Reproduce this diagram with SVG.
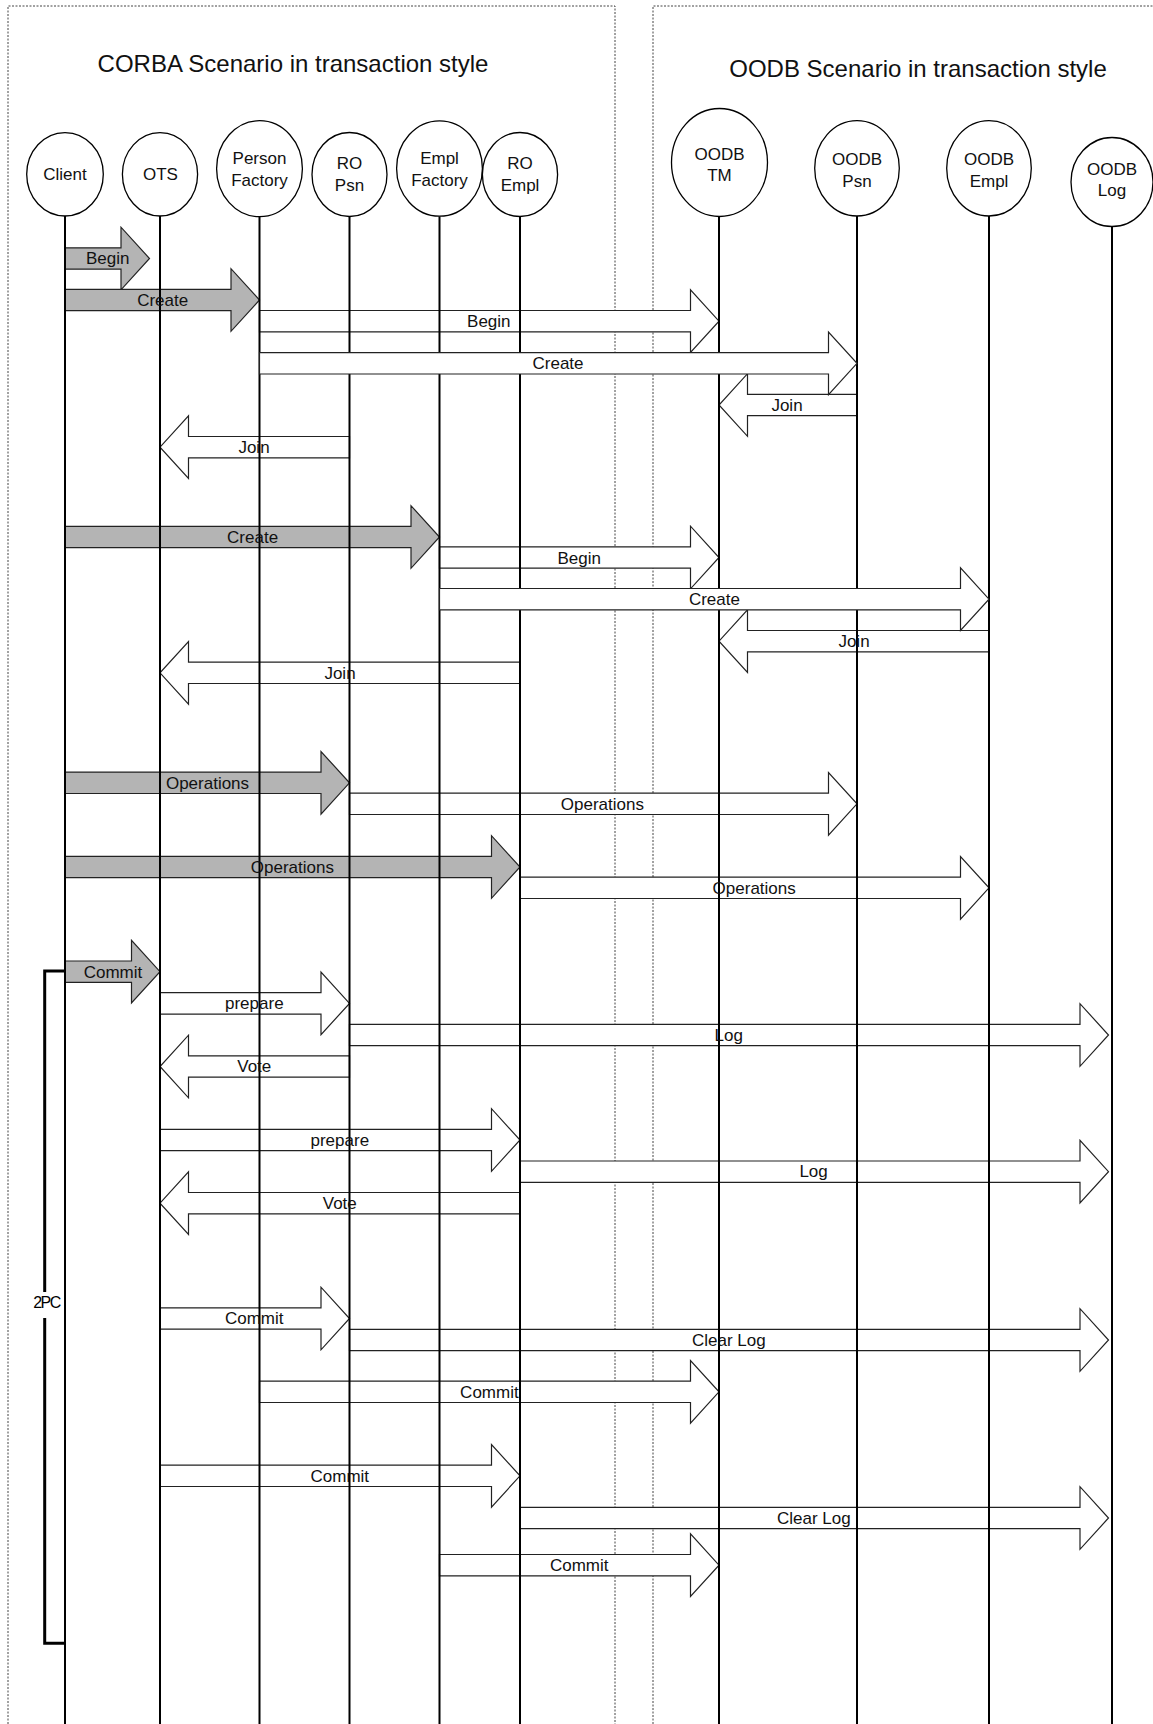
<svg xmlns="http://www.w3.org/2000/svg" width="1153" height="1724" viewBox="0 0 1153 1724">
<style>
  .frame { fill: none; stroke: #444; stroke-width: 1; stroke-dasharray: 2 1.5; }
  .node ellipse { fill: #fff; stroke: #000; stroke-width: 1.3; }
  .life { stroke: #000; stroke-width: 2; fill: none; }
  .ntext { font-family: "Liberation Sans", Arial, sans-serif; font-size: 17px; fill: #111; text-anchor: middle; }
  .title { font-family: "Liberation Sans", Arial, sans-serif; font-size: 24px; fill: #111; text-anchor: middle; }
  .arr { fill: #fff; stroke: #222; stroke-width: 1.2; stroke-linejoin: miter; }
  .garr { fill: #b4b4b4; stroke: #222; stroke-width: 1.2; }
  .lbl { font-family: "Liberation Sans", Arial, sans-serif; font-size: 17px; fill: #111; text-anchor: middle; }
  .bracket { fill: none; stroke: #000; stroke-width: 3; }
  .pc { font-family: "Liberation Sans", Arial, sans-serif; font-size: 16px; fill: #000; text-anchor: middle; letter-spacing: -1.5px; }
</style>
<rect x="0" y="0" width="1153" height="1724" fill="#fff"/>

<g id="frames">
  <path class="frame" d="M8 1724 V6 H615 V1724"/>
  <path class="frame" d="M653 1724 V6 H1153"/>
  <text class="title" x="293" y="72">CORBA Scenario in transaction style</text>
  <text class="title" x="918" y="77">OODB Scenario in transaction style</text>
</g>

<g id="connectors">
  <path class="garr" d="M65 247.8 H121 V227.2 L149.5 258.5 L121 289.8 V269.2 H65 Z"/>
  <path class="garr" d="M65 289.3 H231 V268.7 L259.5 300 L231 331.3 V310.7 H65 Z"/>
  <path class="arr" d="M259.5 310.5 H690.5 V289.9 L719 321.2 L690.5 352.5 V331.9 H259.5 Z"/>
  <path class="arr" d="M857 394.3 H747.5 V373.7 L719 405 L747.5 436.3 V415.7 H857 Z"/>
  <path class="arr" d="M349.5 436.5 H188.5 V415.9 L160 447.2 L188.5 478.5 V457.9 H349.5 Z"/>
  <path class="garr" d="M65 526.3 H411 V505.7 L439.5 537 L411 568.3 V547.7 H65 Z"/>
  <path class="arr" d="M439.5 546.8 H690.5 V526.2 L719 557.5 L690.5 588.8 V568.2 H439.5 Z"/>
  <path class="arr" d="M989 630.5 H747.5 V609.9 L719 641.2 L747.5 672.5 V651.9 H989 Z"/>
  <path class="arr" d="M520 662.1 H188.5 V641.5 L160 672.8 L188.5 704.1 V683.5 H520 Z"/>
  <path class="garr" d="M65 772.1 H321 V751.5 L349.5 782.8 L321 814.1 V793.5 H65 Z"/>
  <path class="arr" d="M349.5 793.1 H828.5 V772.5 L857 803.8 L828.5 835.1 V814.5 H349.5 Z"/>
  <path class="garr" d="M65 856.3 H491.5 V835.7 L520 867 L491.5 898.3 V877.7 H65 Z"/>
  <path class="arr" d="M520 877.1 H960.5 V856.5 L989 887.8 L960.5 919.1 V898.5 H520 Z"/>
  <path class="garr" d="M65 961 H131.5 V940.4 L160 971.7 L131.5 1003 V982.4 H65 Z"/>
  <path class="arr" d="M160 992.7 H321 V972.1 L349.5 1003.4 L321 1034.7 V1014.1 H160 Z"/>
  <path class="arr" d="M349.5 1024.3 H1080 V1003.7 L1108.5 1035 L1080 1066.3 V1045.7 H349.5 Z"/>
  <path class="arr" d="M349.5 1055.8 H188.5 V1035.2 L160 1066.5 L188.5 1097.8 V1077.2 H349.5 Z"/>
  <path class="arr" d="M160 1129.3 H491.5 V1108.7 L520 1140 L491.5 1171.3 V1150.7 H160 Z"/>
  <path class="arr" d="M520 1161 H1080 V1140.4 L1108.5 1171.7 L1080 1203 V1182.4 H520 Z"/>
  <path class="arr" d="M520 1192.5 H188.5 V1171.9 L160 1203.2 L188.5 1234.5 V1213.9 H520 Z"/>
  <path class="arr" d="M160 1307.8 H321 V1287.2 L349.5 1318.5 L321 1349.8 V1329.2 H160 Z"/>
  <path class="arr" d="M349.5 1329.3 H1080 V1308.7 L1108.5 1340 L1080 1371.3 V1350.7 H349.5 Z"/>
  <path class="arr" d="M259.5 1381.1 H690.5 V1360.5 L719 1391.8 L690.5 1423.1 V1402.5 H259.5 Z"/>
  <path class="arr" d="M160 1465.1 H491.5 V1444.5 L520 1475.8 L491.5 1507.1 V1486.5 H160 Z"/>
  <path class="arr" d="M520 1507.3 H1080 V1486.7 L1108.5 1518 L1080 1549.3 V1528.7 H520 Z"/>
  <path class="arr" d="M439.5 1554.5 H690.5 V1533.9 L719 1565.2 L690.5 1596.5 V1575.9 H439.5 Z"/>
</g>

<g id="node-client" class="node">
  <line class="life" x1="65" y1="216" x2="65" y2="1724"/>
  <ellipse cx="65" cy="174.3" rx="38.3" ry="41.7"/>
  <text class="ntext" x="65" y="180">Client</text>
</g>
<g id="node-ots" class="node">
  <line class="life" x1="160" y1="216" x2="160" y2="1724"/>
  <ellipse cx="160" cy="174.3" rx="37.6" ry="41.7"/>
  <text class="ntext" x="160.5" y="180">OTS</text>
</g>
<g id="node-person-factory" class="node">
  <line class="life" x1="259.5" y1="216.7" x2="259.5" y2="1724"/>
  <ellipse cx="259.5" cy="168.7" rx="42.9" ry="48"/>
  <text class="ntext" x="259.5" y="164">Person</text>
  <text class="ntext" x="259.5" y="186">Factory</text>
</g>
<g id="node-ro-psn" class="node">
  <line class="life" x1="349.5" y1="216.5" x2="349.5" y2="1724"/>
  <ellipse cx="349.5" cy="174.5" rx="37.5" ry="42"/>
  <text class="ntext" x="349.5" y="169">RO</text>
  <text class="ntext" x="349.5" y="191">Psn</text>
</g>
<g id="node-empl-factory" class="node">
  <line class="life" x1="439.5" y1="216.2" x2="439.5" y2="1724"/>
  <ellipse cx="439.5" cy="168.5" rx="42.9" ry="47.7"/>
  <text class="ntext" x="439.5" y="164">Empl</text>
  <text class="ntext" x="439.5" y="186">Factory</text>
</g>
<g id="node-ro-empl" class="node">
  <line class="life" x1="520" y1="216.5" x2="520" y2="1724"/>
  <ellipse cx="520" cy="174.5" rx="37.6" ry="42"/>
  <text class="ntext" x="520" y="169">RO</text>
  <text class="ntext" x="520" y="191">Empl</text>
</g>
<g id="node-oodb-tm" class="node">
  <line class="life" x1="719" y1="216.5" x2="719" y2="1724"/>
  <ellipse cx="719.5" cy="162.5" rx="48" ry="54"/>
  <text class="ntext" x="719.5" y="160">OODB</text>
  <text class="ntext" x="719.5" y="181">TM</text>
</g>
<g id="node-oodb-psn" class="node">
  <line class="life" x1="857" y1="216" x2="857" y2="1724"/>
  <ellipse cx="857" cy="168.3" rx="42.3" ry="47.7"/>
  <text class="ntext" x="857" y="165">OODB</text>
  <text class="ntext" x="857" y="187">Psn</text>
</g>
<g id="node-oodb-empl" class="node">
  <line class="life" x1="989" y1="216" x2="989" y2="1724"/>
  <ellipse cx="989" cy="168.3" rx="42.3" ry="47.7"/>
  <text class="ntext" x="989" y="165">OODB</text>
  <text class="ntext" x="989" y="187">Empl</text>
</g>
<g id="node-oodb-log" class="node">
  <line class="life" x1="1112" y1="226.5" x2="1112" y2="1724"/>
  <ellipse cx="1112" cy="182" rx="41" ry="44.5"/>
  <text class="ntext" x="1112" y="175">OODB</text>
  <text class="ntext" x="1112" y="196">Log</text>
</g>

<g id="connectors-front">
  <path class="arr" d="M259.5 352.6 H828.5 V332 L857 363.3 L828.5 394.6 V374 H259.5 Z"/>
  <path class="arr" d="M439.5 588.5 H960.5 V567.9 L989 599.2 L960.5 630.5 V609.9 H439.5 Z"/>
</g>

<g id="bracket-2pc">
  <path class="bracket" d="M65 971 H44.7 V1292"/>
  <path class="bracket" d="M44.7 1318 V1643.3 H65"/>
  <text class="pc" x="46.5" y="1307.5">2PC</text>
</g>

<g id="connector-labels">
  <text class="lbl" x="107.7" y="264">Begin</text>
  <text class="lbl" x="162.7" y="306">Create</text>
  <text class="lbl" x="488.8" y="327">Begin</text>
  <text class="lbl" x="558" y="369">Create</text>
  <text class="lbl" x="787" y="411">Join</text>
  <text class="lbl" x="254" y="453">Join</text>
  <text class="lbl" x="252.6" y="542.5">Create</text>
  <text class="lbl" x="579.2" y="563.5">Begin</text>
  <text class="lbl" x="714.4" y="605">Create</text>
  <text class="lbl" x="854" y="647">Join</text>
  <text class="lbl" x="340" y="678.5">Join</text>
  <text class="lbl" x="207.5" y="788.5">Operations</text>
  <text class="lbl" x="602.4" y="809.5">Operations</text>
  <text class="lbl" x="292.4" y="872.5">Operations</text>
  <text class="lbl" x="754.2" y="893.5">Operations</text>
  <text class="lbl" x="113" y="977.5">Commit</text>
  <text class="lbl" x="254.3" y="1009">prepare</text>
  <text class="lbl" x="728.8" y="1040.5">Log</text>
  <text class="lbl" x="254.3" y="1072">Vote</text>
  <text class="lbl" x="339.8" y="1145.5">prepare</text>
  <text class="lbl" x="813.6" y="1177">Log</text>
  <text class="lbl" x="339.8" y="1209">Vote</text>
  <text class="lbl" x="254.2" y="1324">Commit</text>
  <text class="lbl" x="728.8" y="1345.5">Clear Log</text>
  <text class="lbl" x="489.4" y="1397.5">Commit</text>
  <text class="lbl" x="339.8" y="1481.5">Commit</text>
  <text class="lbl" x="813.8" y="1523.5">Clear Log</text>
  <text class="lbl" x="579.2" y="1571">Commit</text>
</g>
</svg>
